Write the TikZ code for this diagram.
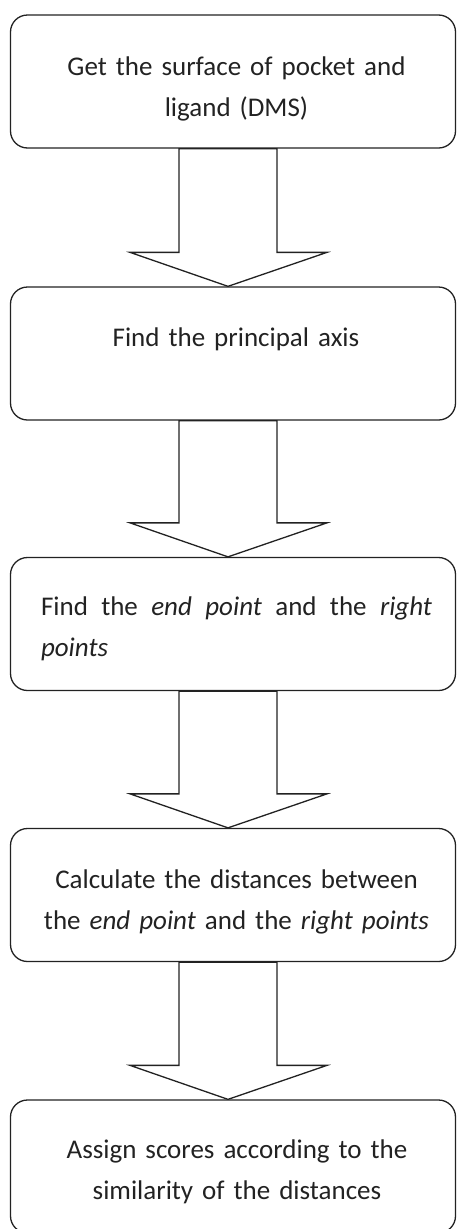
\documentclass[tikz,border=0pt]{standalone}
\usepackage{fontspec}
\setmainfont{Carlito}
\usetikzlibrary{calc}
\definecolor{ink}{HTML}{222222}
\tikzset{
  stepbox/.style={draw=ink, line width=1.3pt, rounded corners=17pt, minimum width=445pt, minimum height=133pt, inner sep=0pt},
  steptext/.style={anchor=base, text=ink, font=\fontsize{27}{41}\selectfont, inner sep=0pt, text width=420pt, align=center},
  blockarrow/.style={draw=ink, fill=white, line width=1.3pt, line join=miter}
}
\newcommand\flowarrow[2]{%
  \draw[blockarrow] ($(#1.south)+(-54,0)$) -- ($(#2.north)+(-54,-34)$) -- ($(#2.north)+(-103,-34)$)
    -- ($(#2.north)+(-5,0)$) -- ($(#2.north)+(94,-34)$) -- ($(#2.north)+(44,-34)$)
    -- ($(#1.south)+(44,0)$) -- cycle;}
\begin{document}
\begin{tikzpicture}[x=1pt,y=-1pt]
\useasboundingbox (0,0) rectangle (457,1229);
\node[stepbox] (b1) at (233,81.5) {};
\node[stepbox] (b2) at (233,353.5) {};
\node[stepbox] (b3) at (233,624) {};
\node[stepbox] (b4) at (233,895) {};
\node[stepbox] (b5) at (233,1166.5) {};
\node[steptext] (t1) at ($(b1.north)+(3.5,61)$) {Get the surface of pocket and\\ligand (DMS)};
\node[steptext] (t2) at ($(b2.north)+(3,60)$) {Find the principal axis};
\node[steptext, text width=391pt, align=justify] (t3) at ($(b3.north)+(3.5,59)$) {\hyphenpenalty=10000 Find the \textit{end point} and the \textit{right points}};
\node[steptext] (t4) at ($(b4.north)+(3.5,61)$) {Calculate the distances between\\the \textit{end point} and the \textit{right points}};
\node[steptext] (t5) at ($(b5.north)+(4,59)$) {Assign scores according to the\\similarity of the distances};
\flowarrow{b1}{b2}
\flowarrow{b2}{b3}
\flowarrow{b3}{b4}
\flowarrow{b4}{b5}
\end{tikzpicture}
\end{document}
